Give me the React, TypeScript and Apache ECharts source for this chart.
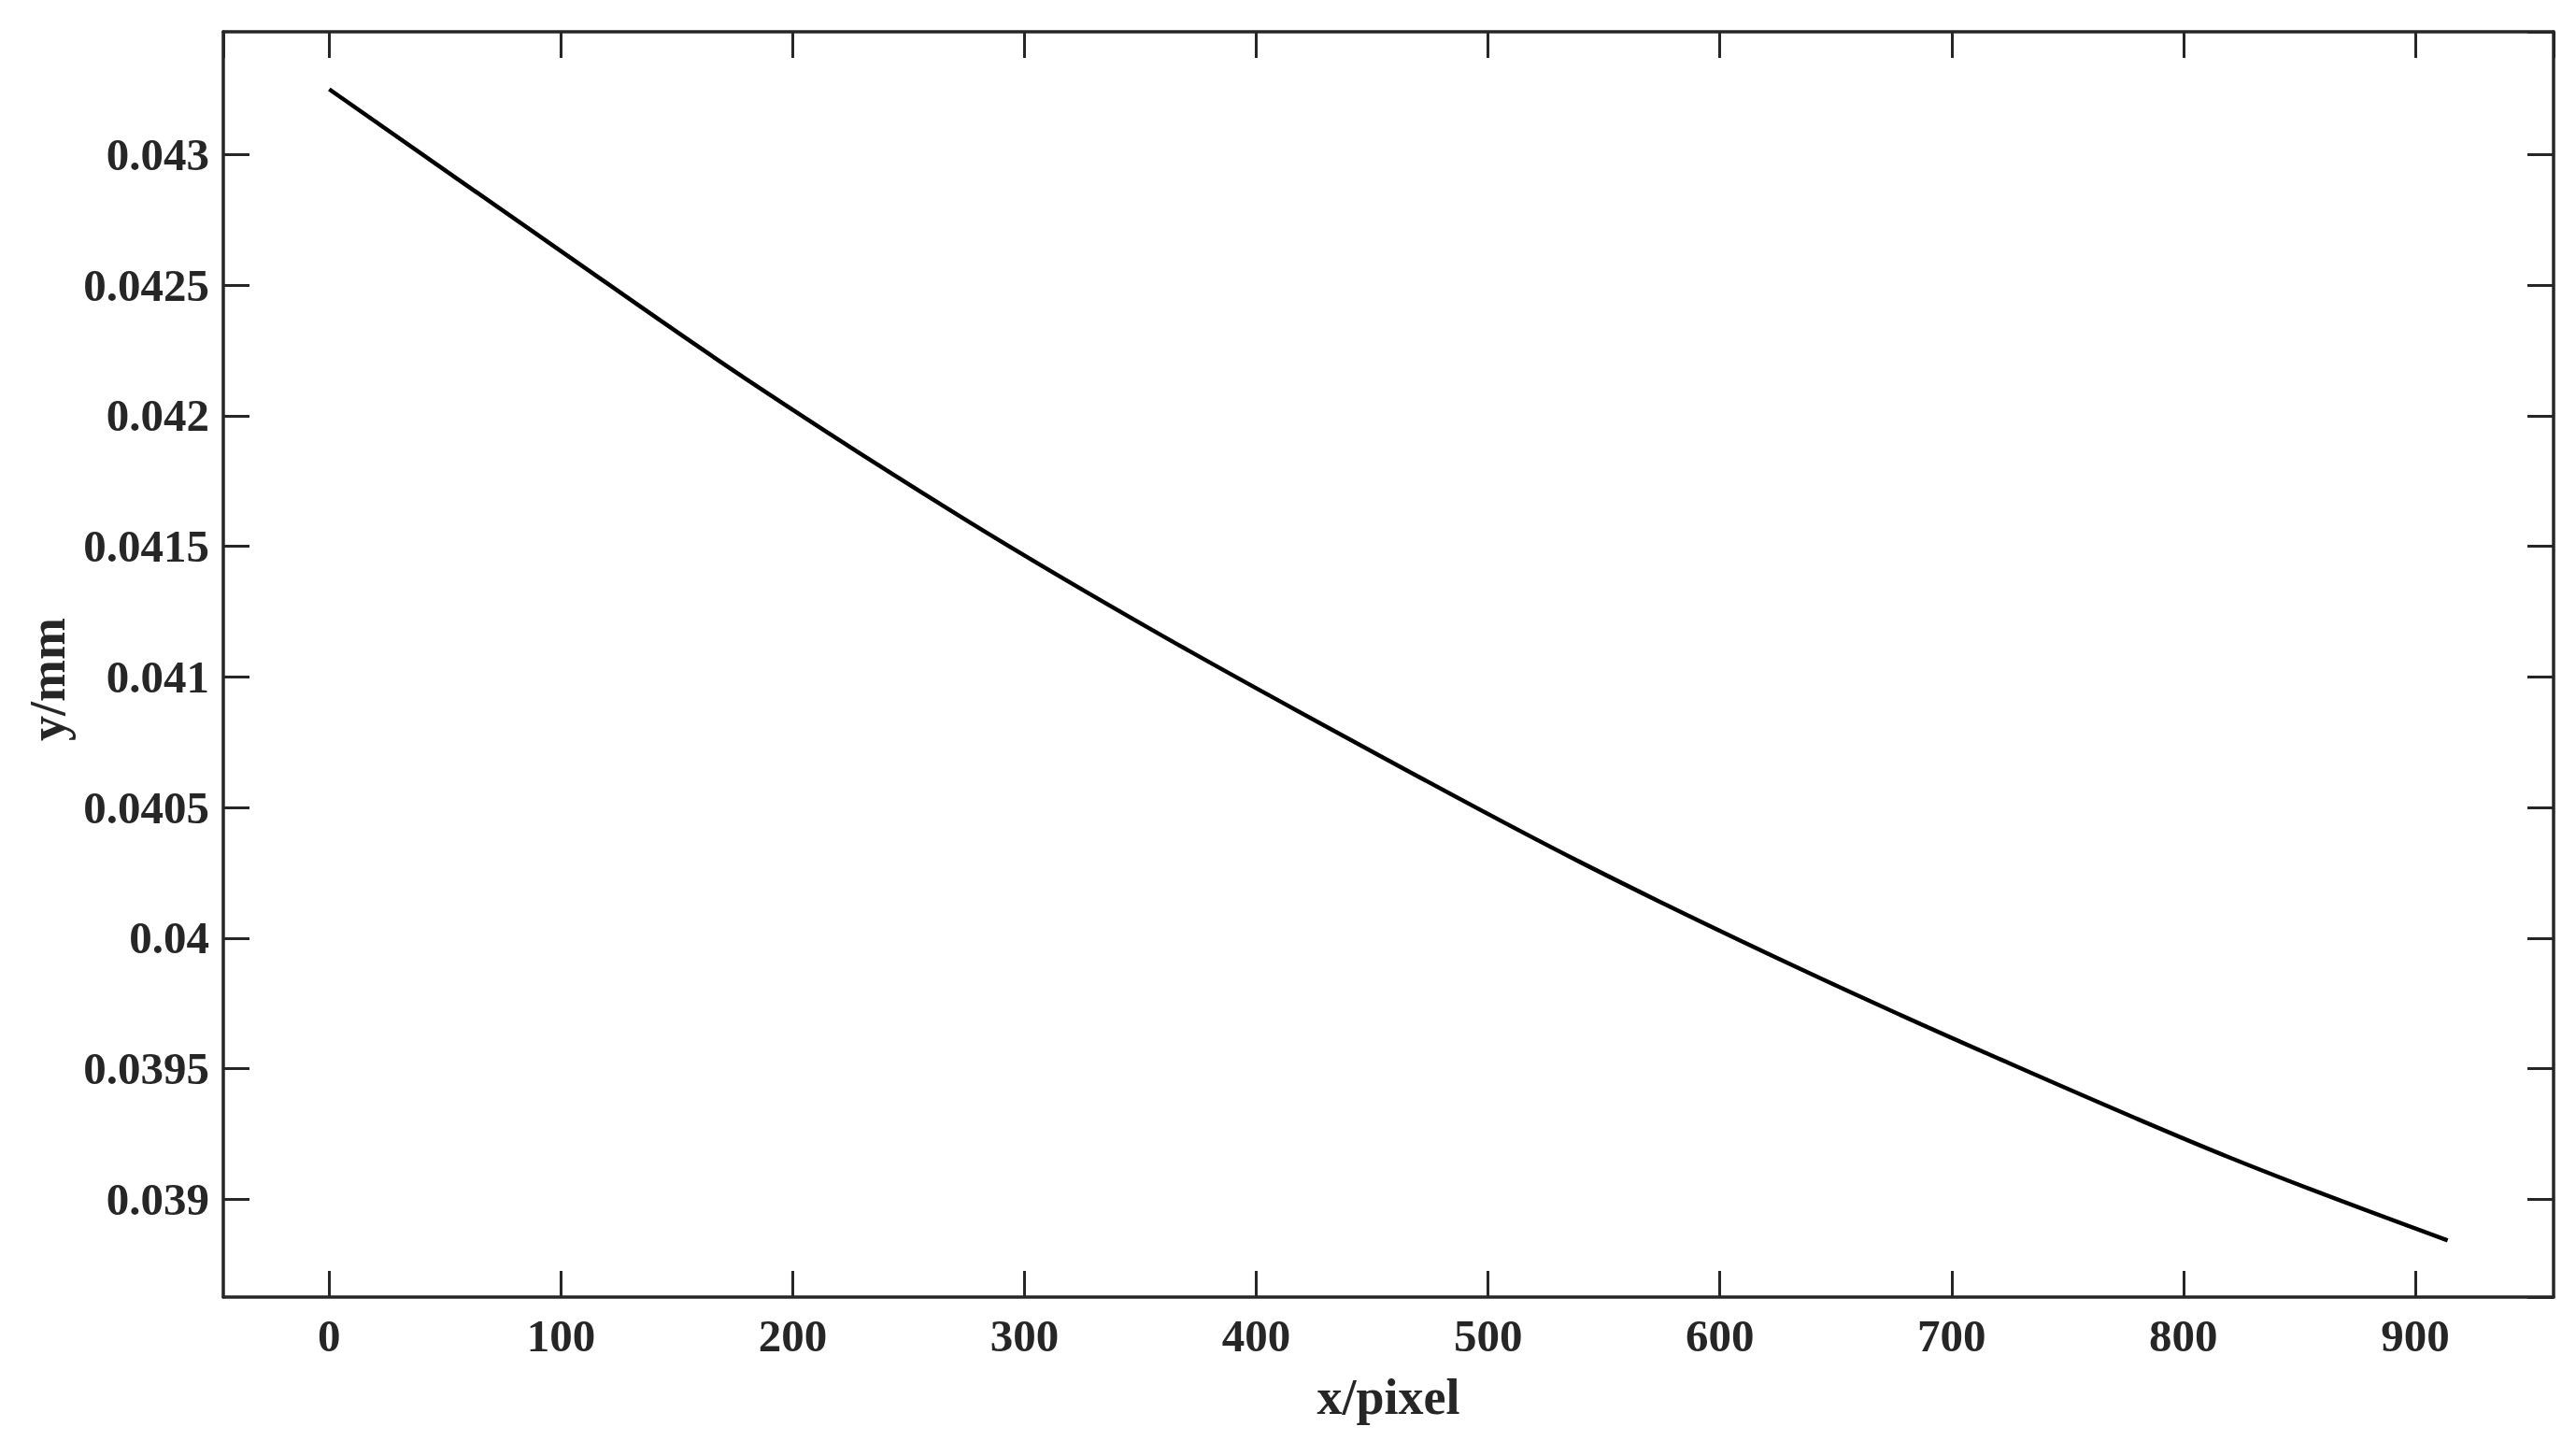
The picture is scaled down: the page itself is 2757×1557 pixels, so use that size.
import React, { useEffect, useRef } from "react";
import * as echarts from "echarts";

const xPixels = [0, 96, 180, 274, 360, 454, 540, 634, 720, 820, 914];
const yMm = [
  0.04325, 0.042655, 0.04214, 0.041605, 0.041155, 0.040695, 0.04029, 0.039885, 0.03954, 0.03916, 0.038843,
];
const xAxisTitle = "x/pixel";
const yAxisTitle = "y/mm";
const xRange = [-45.7, 959.7];
const yRange = [0.038626, 0.04347];

const FONT = "'Liberation Serif', 'Times New Roman', serif";
const AXIS_COLOR = "#262626";

export default function App() {
  const ref = useRef<HTMLDivElement>(null);
  useEffect(() => {
    if (!ref.current) return;
    const chart = echarts.init(ref.current, null, { renderer: "svg" });
    const labelStyle = {
      fontFamily: FONT,
      fontWeight: "bold" as const,
      fontSize: 49,
      color: AXIS_COLOR,
    };
    const lineStyle = { color: AXIS_COLOR, width: 3.5 };
    const tick = { show: true, inside: true, length: 28, lineStyle: { color: AXIS_COLOR, width: 3 } };
    chart.setOption({
      animation: false,
      backgroundColor: "#ffffff",
      grid: { left: 239, top: 34, right: 24, bottom: 169, containLabel: false },
      xAxis: [
        {
          type: "value",
          position: "bottom",
          min: xRange[0],
          max: xRange[1],
          splitNumber: 10,
          axisLine: { show: true, onZero: false, lineStyle },
          axisTick: tick,
          splitLine: { show: false },
          axisLabel: { ...labelStyle, margin: 17, showMinLabel: false, showMaxLabel: false },
          name: xAxisTitle,
          nameLocation: "middle",
          nameGap: 80,
          nameTextStyle: { fontFamily: FONT, fontWeight: "bold", fontSize: 54, color: AXIS_COLOR },
        },
        {
          type: "value",
          position: "top",
          min: xRange[0],
          max: xRange[1],
          splitNumber: 10,
          axisLine: { show: true, onZero: false, lineStyle },
          axisTick: tick,
          splitLine: { show: false },
          axisLabel: { show: false },
        },
      ],
      yAxis: [
        {
          type: "value",
          position: "left",
          min: yRange[0],
          max: yRange[1],
          splitNumber: 10,
          axisLine: { show: true, onZero: false, lineStyle },
          axisTick: tick,
          splitLine: { show: false },
          axisLabel: { ...labelStyle, margin: 15, showMinLabel: false, showMaxLabel: false },
          name: yAxisTitle,
          nameLocation: "middle",
          nameGap: 160,
          nameTextStyle: {
            fontFamily: FONT,
            fontWeight: "bold",
            fontSize: 54,
            color: AXIS_COLOR,
            padding: [0, 32, 0, 0],
          },
        },
        {
          type: "value",
          position: "right",
          min: yRange[0],
          max: yRange[1],
          splitNumber: 10,
          axisLine: { show: true, onZero: false, lineStyle },
          axisTick: tick,
          splitLine: { show: false },
          axisLabel: { show: false },
        },
      ],
      series: [
        {
          type: "line",
          xAxisIndex: 0,
          yAxisIndex: 0,
          data: xPixels.map((x, i) => [x, yMm[i]]),
          showSymbol: false,
          smooth: 0.35,
          lineStyle: { color: "#000000", width: 4.5 },
        },
      ],
    });
    return () => chart.dispose();
  }, []);
  return (
    <div
      ref={ref}
      style={{ position: "fixed", left: 0, top: 0, width: 2757, height: 1557, background: "#fff" }}
    />
  );
}
